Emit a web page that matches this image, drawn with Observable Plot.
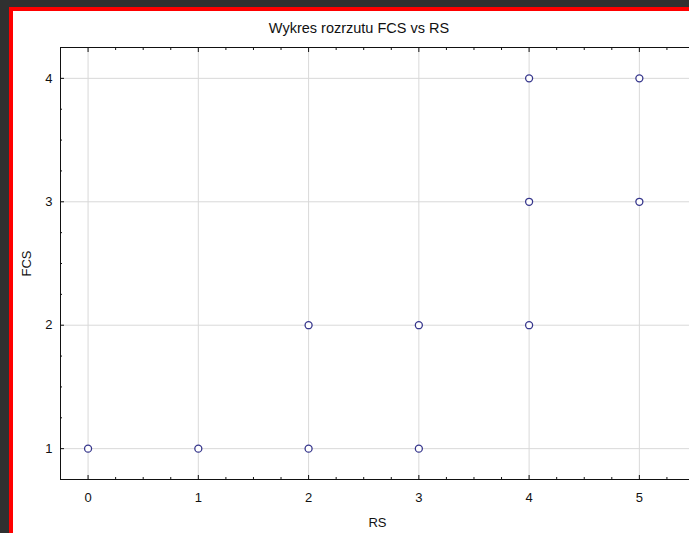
<!DOCTYPE html>
<html>
<head>
<meta charset="utf-8">
<script src="https://cdn.jsdelivr.net/npm/d3@7"></script>
<script src="https://cdn.jsdelivr.net/npm/@observablehq/plot@0.6"></script>
<style>
  html, body { margin: 0; padding: 0; width: 689px; height: 533px; overflow: hidden; background: #303030; }
  #panel {
    position: absolute; left: 9px; top: 7px; width: 800px; height: 600px;
    background: #fff; border-left: 4px solid #f00; border-top: 4px solid #f00;
    font-family: "Liberation Sans", Arial, sans-serif;
  }
  #title {
    position: absolute; left: 0; top: 9px; width: 692px; text-align: center;
    font-size: 14.5px; color: #111;
  }
  #chart { position: absolute; left: 0; top: 0; }
</style>
</head>
<body>
<div id="panel">
  <div id="title">Wykres rozrzutu FCS vs RS</div>
  <div id="chart"></div>
</div>
<script>
// Scatter of FCS against RS
const rsValues  = [0, 1, 2, 3, 2, 3, 4, 4, 5, 4, 5];
const fcsValues = [1, 1, 1, 1, 2, 2, 2, 3, 3, 4, 4];

const xMajorTicks = [0, 1, 2, 3, 4, 5];
const yMajorTicks = [1, 2, 3, 4];
const xMinorTicks = [-0.25, 0.25, 0.5, 0.75, 1.25, 1.5, 1.75, 2.25, 2.5, 2.75, 3.25, 3.5, 3.75, 4.25, 4.5, 4.75, 5.25, 5.5];
const yMinorTicks = [0.75, 1.25, 1.5, 1.75, 2.25, 2.5, 2.75, 3.25, 3.5, 3.75, 4.25];

const points = rsValues.map((rs, i) => ({rs, fcs: fcsValues[i]}));

const fontFamily = "Liberation Sans, Arial, sans-serif";

const chart = Plot.plot({
  width: 720,
  height: 540,
  marginLeft: 47,
  marginRight: 39,
  marginTop: 36,
  marginBottom: 72,
  style: {fontFamily, fontSize: "13px", color: "#111", background: "transparent"},
  x: {domain: [-0.25, 5.5]},
  y: {domain: [0.75, 4.25]},
  marks: [
    Plot.gridX(xMajorTicks, {stroke: "#d9d9d9", strokeOpacity: 1}),
    Plot.gridY(yMajorTicks, {stroke: "#d9d9d9", strokeOpacity: 1}),
    Plot.frame({stroke: "#111"}),
    // major ticks point inward, minor ticks are shorter
    Plot.axisX(xMajorTicks, {anchor: "bottom", tickSize: -4, tickPadding: 17, tickFormat: "d", label: "RS", labelAnchor: "center", labelArrow: "none", labelOffset: 47, fontSize: 13}),
    Plot.axisX(xMajorTicks, {anchor: "top", tickSize: -4, text: null, label: null}),
    Plot.axisX(xMinorTicks, {anchor: "bottom", tickSize: -2, text: null, label: null}),
    Plot.axisX(xMinorTicks, {anchor: "top", tickSize: -2, text: null, label: null}),
    Plot.axisY(yMajorTicks, {anchor: "left", tickSize: -4, tickPadding: 12, tickFormat: "d", label: "FCS", labelAnchor: "center", labelArrow: "none", labelOffset: 39, fontSize: 13}),
    Plot.axisY(yMinorTicks, {anchor: "left", tickSize: -2, text: null, label: null}),
    Plot.dot(points, {x: "rs", y: "fcs", r: 3.5, stroke: "#36368c", strokeWidth: 1.3, fill: "white"})
  ]
});
document.getElementById("chart").appendChild(chart);
</script>
</body>
</html>
